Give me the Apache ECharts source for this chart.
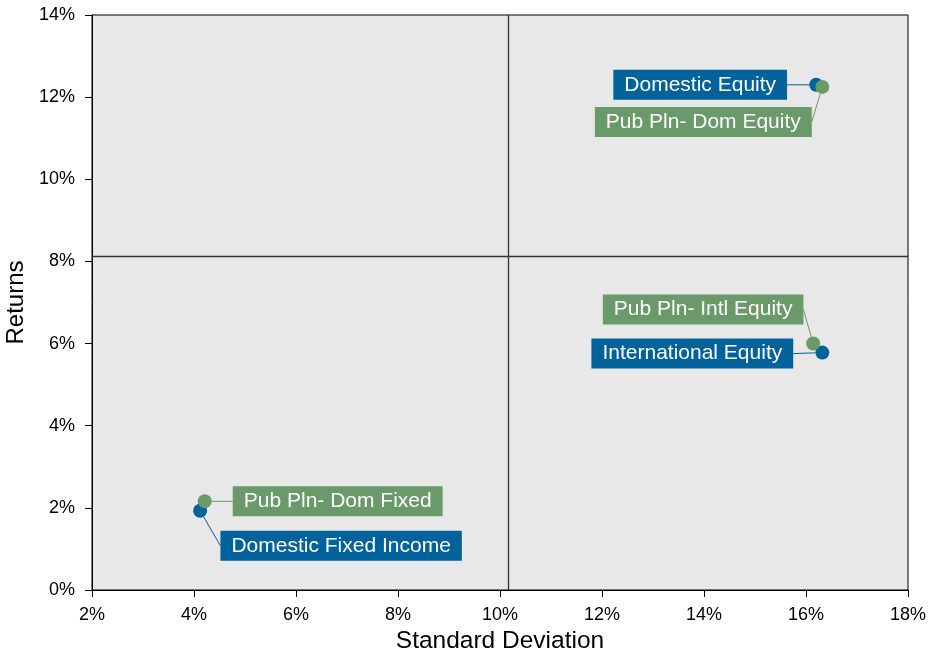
<!DOCTYPE html>
<html>
<head>
<meta charset="utf-8">
<script src="https://cdn.jsdelivr.net/npm/echarts@6/dist/echarts.min.js"></script>
<style>html,body{margin:0;padding:0;background:#fff}#c{width:928px;height:652px}</style>
</head>
<body>
<div id="c"></div>
<script>
// Data
const indexNames = ['Domestic Equity', 'International Equity', 'Domestic Fixed Income'];
const indexStdDev = [16.20, 16.32, 4.12];
const indexReturn = [12.30, 5.78, 1.93];

const planNames = ['Pub Pln- Dom Equity', 'Pub Pln- Intl Equity', 'Pub Pln- Dom Fixed'];
const planStdDev = [16.32, 16.14, 4.21];
const planReturn = [12.25, 6.00, 2.16];

const medianStdDev = 10.16;
const medianReturn = 8.12;

const xTicks = [2, 4, 6, 8, 10, 12, 14, 16, 18];
const yTicks = [0, 2, 4, 6, 8, 10, 12, 14];

// label offsets (style) in px relative to the marker center
const indexOffsets = [[-116, 0], [-130, 1], [141, 35]];
const planOffsets = [[-119, 35], [-110, -34], [133, 0]];

const BLUE = '#00629b';
const GREEN = '#6a9a69';

function mkData(xs, ys, names) {
  return xs.map((x, i) => ({ name: names[i], value: [x, ys[i]] }));
}

function layoutFor(offsets) {
  return function (p) {
    const o = offsets[p.dataIndex];
    return {
      x: p.rect.x + p.rect.width / 2 + o[0],
      y: p.rect.y + p.rect.height / 2 + o[1],
      align: 'center',
      verticalAlign: 'middle'
    };
  };
}

function labelCfg(color) {
  return {
    show: true,
    position: 'inside',
    formatter: '{b}',
    color: '#fff',
    fontFamily: 'Liberation Sans, Arial, sans-serif',
    fontSize: 21,
    lineHeight: 22,
    backgroundColor: color,
    padding: [5, 11, 3, 11],
    borderRadius: 0
  };
}

const chart = echarts.init(document.getElementById('c'), null, { renderer: 'canvas' });
chart.setOption({
  animation: false,
  textStyle: { fontFamily: 'Liberation Sans, Arial, sans-serif' },
  grid: {
    left: 92, right: 20, top: 15, bottom: 62,
    outerBoundsMode: 'none',
    containLabel: false,
    show: true, backgroundColor: '#e8e8e8', borderColor: '#000', borderWidth: 1
  },
  xAxis: {
    type: 'value', min: xTicks[0], max: xTicks[xTicks.length - 1], interval: 2,
    name: 'Standard Deviation', nameLocation: 'middle', nameGap: 39,
    nameTextStyle: { fontSize: 24.5, color: '#000' },
    axisLine: { show: true, lineStyle: { color: '#000', width: 1 } },
    axisTick: { show: true, length: 7, lineStyle: { color: '#000' } },
    axisLabel: { formatter: '{value}%', fontSize: 18, color: '#000', margin: 16 },
    splitLine: { show: false }
  },
  yAxis: {
    type: 'value', min: yTicks[0], max: yTicks[yTicks.length - 1], interval: 2,
    name: 'Returns', nameLocation: 'middle', nameGap: 51,
    nameTextStyle: { fontSize: 24, color: '#000' },
    axisLine: { show: true, lineStyle: { color: '#000', width: 1 } },
    axisTick: { show: true, length: 7, lineStyle: { color: '#000' } },
    axisLabel: { formatter: '{value}%', fontSize: 18, color: '#000', margin: 17 },
    splitLine: { show: false }
  },
  series: [
    {
      type: 'scatter',
      name: 'Index',
      symbolSize: 14,
      itemStyle: { color: BLUE, opacity: 1 },
      data: mkData(indexStdDev, indexReturn, indexNames),
      label: labelCfg(BLUE),
      labelLine: { show: true, lineStyle: { color: BLUE, width: 1 } },
      labelLayout: layoutFor(indexOffsets),
      markLine: {
        silent: true,
        symbol: 'none',
        label: { show: false },
        lineStyle: { color: '#333', width: 1.3, type: 'solid' },
        data: [{ xAxis: medianStdDev }, { yAxis: medianReturn }]
      },
      z: 3
    },
    {
      type: 'scatter',
      name: 'Public Plan',
      symbolSize: 14,
      itemStyle: { color: GREEN, opacity: 1 },
      data: mkData(planStdDev, planReturn, planNames),
      label: labelCfg(GREEN),
      labelLine: { show: true, lineStyle: { color: GREEN, width: 1 } },
      labelLayout: layoutFor(planOffsets),
      z: 4
    }
  ]
});
</script>
</body>
</html>
